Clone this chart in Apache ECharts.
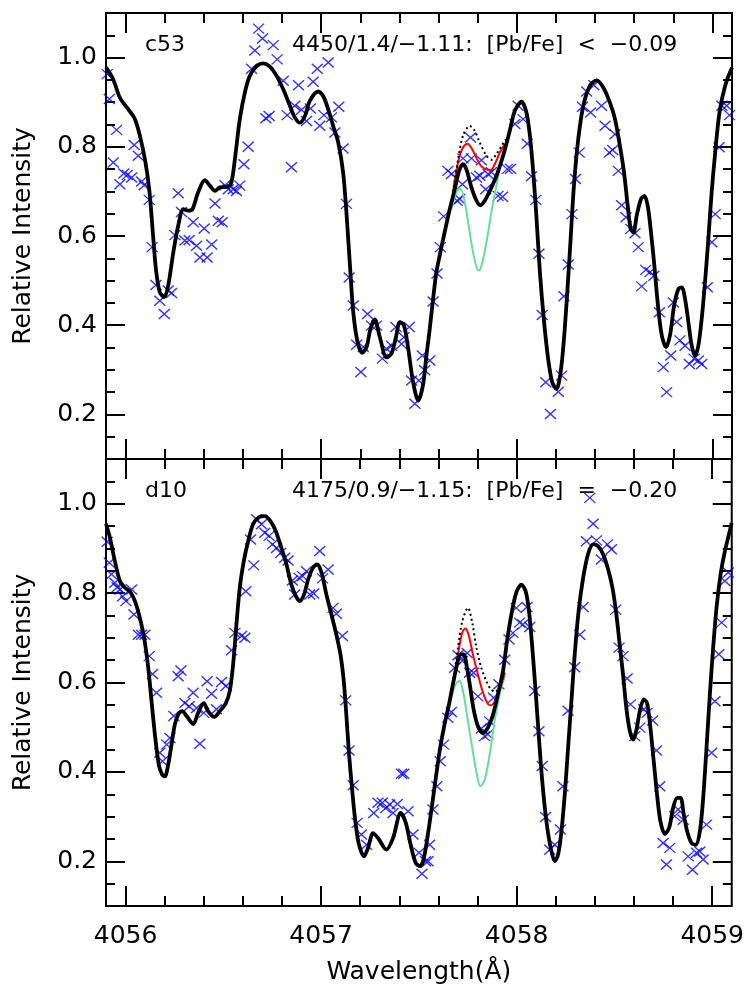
<!DOCTYPE html>
<html>
<head>
<meta charset="utf-8">
<script src="https://cdn.jsdelivr.net/npm/echarts@6/dist/echarts.min.js"></script>
<style>
  html, body { margin: 0; padding: 0; background: #fff; }
  #main { width: 747px; height: 997px; }
</style>
</head>
<body>
<div id="main"></div>
<script>
// ---- data: [wavelength (A), relative intensity] ----

// upper panel (c53)
var topModel = [[4055.9,0.978],[4055.937,0.951],[4055.971,0.91],[4056.014,0.884],[4056.048,0.862],[4056.073,0.825],[4056.099,0.772],[4056.121,0.705],[4056.138,0.616],[4056.155,0.526],[4056.175,0.474],[4056.198,0.463],[4056.218,0.489],[4056.244,0.563],[4056.269,0.623],[4056.295,0.66],[4056.32,0.657],[4056.342,0.66],[4056.371,0.698],[4056.405,0.725],[4056.431,0.713],[4056.457,0.701],[4056.482,0.709],[4056.516,0.71],[4056.537,0.716],[4056.55,0.742],[4056.567,0.802],[4056.584,0.862],[4056.61,0.922],[4056.635,0.959],[4056.67,0.981],[4056.704,0.987],[4056.738,0.98],[4056.772,0.959],[4056.806,0.929],[4056.84,0.892],[4056.865,0.866],[4056.891,0.854],[4056.917,0.869],[4056.942,0.903],[4056.985,0.924],[4057.01,0.914],[4057.036,0.884],[4057.061,0.847],[4057.087,0.81],[4057.112,0.743],[4057.129,0.653],[4057.147,0.534],[4057.164,0.429],[4057.186,0.362],[4057.21,0.338],[4057.232,0.351],[4057.252,0.392],[4057.274,0.413],[4057.3,0.373],[4057.334,0.328],[4057.359,0.336],[4057.382,0.373],[4057.402,0.407],[4057.423,0.4],[4057.445,0.347],[4057.47,0.272],[4057.496,0.231],[4057.52,0.265],[4057.538,0.332],[4057.555,0.392],[4057.572,0.459],[4057.589,0.519],[4057.609,0.563],[4057.631,0.608],[4057.657,0.66],[4057.683,0.705],[4057.705,0.746],[4057.725,0.761],[4057.742,0.75],[4057.768,0.709],[4057.794,0.679],[4057.814,0.669],[4057.836,0.679],[4057.862,0.701],[4057.896,0.735],[4057.93,0.78],[4057.964,0.836],[4057.99,0.881],[4058.024,0.901],[4058.049,0.877],[4058.067,0.825],[4058.084,0.743],[4058.101,0.638],[4058.118,0.519],[4058.138,0.414],[4058.16,0.325],[4058.181,0.272],[4058.203,0.257],[4058.224,0.295],[4058.241,0.369],[4058.258,0.474],[4058.275,0.593],[4058.292,0.713],[4058.314,0.817],[4058.34,0.892],[4058.374,0.937],[4058.408,0.949],[4058.442,0.933],[4058.476,0.899],[4058.502,0.862],[4058.527,0.802],[4058.548,0.743],[4058.565,0.675],[4058.582,0.616],[4058.596,0.608],[4058.613,0.646],[4058.635,0.683],[4058.652,0.69],[4058.669,0.668],[4058.686,0.608],[4058.703,0.534],[4058.72,0.451],[4058.741,0.377],[4058.763,0.351],[4058.783,0.377],[4058.804,0.444],[4058.826,0.481],[4058.843,0.485],[4058.86,0.459],[4058.877,0.407],[4058.894,0.354],[4058.911,0.332],[4058.928,0.354],[4058.945,0.414],[4058.962,0.496],[4058.979,0.593],[4058.996,0.698],[4059.014,0.787],[4059.036,0.877],[4059.065,0.937],[4059.1,0.978]];
var topRed = [[4057.674,0.698],[4057.69,0.743],[4057.708,0.78],[4057.73,0.802],[4057.749,0.807],[4057.771,0.795],[4057.797,0.772],[4057.819,0.756],[4057.845,0.749],[4057.867,0.748],[4057.887,0.761],[4057.913,0.787],[4057.939,0.806]];
var topDotted = [[4057.674,0.698],[4057.7,0.772],[4057.725,0.825],[4057.759,0.847],[4057.785,0.836],[4057.81,0.81],[4057.845,0.78],[4057.87,0.771],[4057.896,0.784],[4057.922,0.802],[4057.944,0.817]];
var topGreen = [[4057.666,0.66],[4057.688,0.694],[4057.708,0.707],[4057.729,0.687],[4057.751,0.631],[4057.773,0.571],[4057.794,0.53],[4057.807,0.522],[4057.824,0.541],[4057.845,0.586],[4057.87,0.653],[4057.896,0.713],[4057.922,0.769],[4057.947,0.806]];
var topObs = [[4055.906,0.963],[4055.917,0.907],[4055.954,0.838],[4055.937,0.765],[4055.971,0.716],[4055.991,0.74],[4056.009,0.737],[4056.031,0.731],[4056.044,0.804],[4056.065,0.78],[4056.082,0.722],[4056.095,0.714],[4056.121,0.681],[4056.136,0.575],[4056.155,0.49],[4056.175,0.455],[4056.198,0.425],[4056.218,0.478],[4056.235,0.472],[4056.252,0.602],[4056.269,0.696],[4056.286,0.654],[4056.303,0.59],[4056.325,0.591],[4056.346,0.631],[4056.363,0.578],[4056.38,0.552],[4056.402,0.617],[4056.417,0.552],[4056.44,0.581],[4056.457,0.673],[4056.474,0.634],[4056.494,0.631],[4056.508,0.714],[4056.525,0.705],[4056.55,0.705],[4056.567,0.701],[4056.584,0.713],[4056.605,0.761],[4056.627,0.8],[4056.644,0.975],[4056.661,1.016],[4056.68,1.065],[4056.7,1.043],[4056.717,0.864],[4056.734,0.869],[4056.755,1.028],[4056.775,0.996],[4056.806,0.948],[4056.826,0.871],[4056.848,0.754],[4056.865,0.892],[4056.884,0.938],[4056.899,0.883],[4056.925,0.858],[4056.945,0.886],[4056.959,0.946],[4056.98,0.975],[4056.993,0.847],[4057.014,0.871],[4057.036,0.989],[4057.053,0.866],[4057.07,0.832],[4057.09,0.89],[4057.112,0.796],[4057.129,0.672],[4057.143,0.507],[4057.164,0.444],[4057.181,0.356],[4057.203,0.295],[4057.215,0.351],[4057.237,0.425],[4057.257,0.399],[4057.283,0.399],[4057.313,0.325],[4057.334,0.347],[4057.359,0.354],[4057.382,0.396],[4057.411,0.358],[4057.423,0.373],[4057.45,0.396],[4057.462,0.276],[4057.479,0.224],[4057.499,0.276],[4057.517,0.332],[4057.529,0.299],[4057.555,0.321],[4057.572,0.453],[4057.592,0.516],[4057.609,0.575],[4057.626,0.644],[4057.648,0.746],[4057.666,0.739],[4057.695,0.679],[4057.708,0.683],[4057.722,0.716],[4057.725,0.774],[4057.763,0.821],[4057.768,0.774],[4057.794,0.731],[4057.811,0.735],[4057.819,0.77],[4057.841,0.705],[4057.853,0.739],[4057.87,0.743],[4057.904,0.69],[4057.927,0.688],[4057.951,0.75],[4057.968,0.751],[4057.99,0.851],[4058.007,0.892],[4058.032,0.862],[4058.053,0.807],[4058.075,0.734],[4058.097,0.681],[4058.113,0.56],[4058.13,0.423],[4058.148,0.272],[4058.172,0.201],[4058.212,0.251],[4058.229,0.287],[4058.241,0.465],[4058.263,0.536],[4058.282,0.649],[4058.3,0.728],[4058.319,0.787],[4058.336,0.89],[4058.357,0.924],[4058.377,0.877],[4058.394,0.938],[4058.433,0.892],[4058.451,0.847],[4058.473,0.787],[4058.49,0.793],[4058.502,0.828],[4058.519,0.746],[4058.536,0.669],[4058.558,0.642],[4058.582,0.616],[4058.604,0.606],[4058.621,0.575],[4058.638,0.487],[4058.659,0.524],[4058.681,0.519],[4058.701,0.511],[4058.729,0.429],[4058.749,0.306],[4058.766,0.25],[4058.787,0.332],[4058.8,0.451],[4058.817,0.407],[4058.834,0.366],[4058.86,0.354],[4058.882,0.313],[4058.906,0.325],[4058.928,0.321],[4058.945,0.313],[4058.974,0.485],[4058.997,0.586],[4059.014,0.649],[4059.034,0.799],[4059.048,0.892],[4059.073,0.892],[4059.087,0.871]];

// lower panel (d10)
var botModel = [[4055.9,0.955],[4055.92,0.924],[4055.945,0.872],[4055.971,0.827],[4055.997,0.812],[4056.022,0.804],[4056.048,0.782],[4056.073,0.745],[4056.095,0.7],[4056.116,0.633],[4056.133,0.558],[4056.15,0.484],[4056.17,0.416],[4056.187,0.394],[4056.201,0.39],[4056.218,0.416],[4056.235,0.461],[4056.252,0.506],[4056.269,0.528],[4056.29,0.536],[4056.312,0.525],[4056.346,0.507],[4056.371,0.532],[4056.4,0.554],[4056.422,0.536],[4056.453,0.523],[4056.482,0.536],[4056.513,0.554],[4056.533,0.581],[4056.55,0.64],[4056.567,0.73],[4056.584,0.812],[4056.605,0.872],[4056.627,0.916],[4056.652,0.954],[4056.683,0.97],[4056.712,0.972],[4056.741,0.961],[4056.768,0.939],[4056.797,0.901],[4056.823,0.864],[4056.848,0.819],[4056.871,0.793],[4056.891,0.782],[4056.913,0.797],[4056.934,0.831],[4056.959,0.857],[4056.98,0.864],[4057.002,0.846],[4057.027,0.797],[4057.053,0.752],[4057.078,0.707],[4057.099,0.663],[4057.116,0.603],[4057.129,0.528],[4057.143,0.439],[4057.158,0.364],[4057.175,0.29],[4057.194,0.237],[4057.22,0.211],[4057.24,0.23],[4057.266,0.263],[4057.291,0.252],[4057.334,0.226],[4057.368,0.252],[4057.407,0.308],[4057.433,0.286],[4057.458,0.237],[4057.484,0.196],[4057.506,0.189],[4057.524,0.204],[4057.546,0.26],[4057.568,0.327],[4057.589,0.394],[4057.609,0.454],[4057.631,0.506],[4057.654,0.551],[4057.674,0.596],[4057.695,0.64],[4057.712,0.663],[4057.729,0.663],[4057.746,0.633],[4057.763,0.588],[4057.78,0.54],[4057.802,0.502],[4057.828,0.487],[4057.853,0.499],[4057.879,0.528],[4057.904,0.573],[4057.93,0.625],[4057.951,0.693],[4057.973,0.752],[4057.998,0.801],[4058.024,0.819],[4058.046,0.804],[4058.063,0.76],[4058.08,0.678],[4058.097,0.581],[4058.114,0.476],[4058.131,0.379],[4058.152,0.29],[4058.174,0.23],[4058.195,0.2],[4058.212,0.215],[4058.229,0.267],[4058.246,0.349],[4058.263,0.454],[4058.28,0.558],[4058.297,0.663],[4058.317,0.76],[4058.34,0.834],[4058.365,0.887],[4058.391,0.909],[4058.416,0.905],[4058.442,0.887],[4058.468,0.853],[4058.49,0.812],[4058.51,0.752],[4058.527,0.685],[4058.544,0.618],[4058.561,0.543],[4058.579,0.491],[4058.596,0.472],[4058.613,0.495],[4058.63,0.536],[4058.65,0.562],[4058.667,0.554],[4058.684,0.499],[4058.701,0.424],[4058.718,0.349],[4058.735,0.29],[4058.758,0.261],[4058.78,0.275],[4058.8,0.319],[4058.821,0.342],[4058.838,0.342],[4058.855,0.304],[4058.872,0.267],[4058.894,0.241],[4058.916,0.237],[4058.937,0.267],[4058.954,0.342],[4058.971,0.454],[4058.988,0.573],[4059.005,0.678],[4059.022,0.767],[4059.043,0.842],[4059.065,0.894],[4059.1,0.957]];
var botRed = [[4057.674,0.596],[4057.695,0.648],[4057.712,0.693],[4057.725,0.715],[4057.739,0.721],[4057.756,0.704],[4057.776,0.663],[4057.802,0.618],[4057.828,0.577],[4057.853,0.552],[4057.87,0.549],[4057.892,0.562],[4057.916,0.588],[4057.939,0.622]];
var botDotted = [[4057.674,0.596],[4057.7,0.678],[4057.722,0.737],[4057.751,0.767],[4057.773,0.734],[4057.794,0.678],[4057.819,0.633],[4057.845,0.603],[4057.87,0.584],[4057.892,0.579],[4057.916,0.596],[4057.939,0.622]];
var botGreen = [[4057.666,0.566],[4057.688,0.596],[4057.708,0.604],[4057.729,0.573],[4057.751,0.513],[4057.773,0.454],[4057.794,0.401],[4057.814,0.368],[4057.836,0.382],[4057.862,0.439],[4057.887,0.513],[4057.913,0.573],[4057.939,0.614]];
var botObs = [[4055.906,0.915],[4055.917,0.868],[4055.928,0.842],[4055.945,0.823],[4055.957,0.813],[4055.971,0.808],[4055.985,0.793],[4056.002,0.782],[4056.031,0.808],[4056.043,0.752],[4056.065,0.707],[4056.082,0.707],[4056.099,0.707],[4056.121,0.659],[4056.138,0.619],[4056.158,0.577],[4056.175,0.443],[4056.189,0.424],[4056.21,0.461],[4056.227,0.476],[4056.247,0.525],[4056.269,0.614],[4056.283,0.627],[4056.303,0.554],[4056.325,0.547],[4056.346,0.577],[4056.363,0.543],[4056.38,0.463],[4056.4,0.532],[4056.417,0.603],[4056.44,0.575],[4056.465,0.54],[4056.491,0.601],[4056.513,0.592],[4056.542,0.672],[4056.559,0.711],[4056.593,0.704],[4056.61,0.7],[4056.615,0.804],[4056.639,0.92],[4056.656,0.862],[4056.67,0.965],[4056.695,0.954],[4056.712,0.935],[4056.734,0.928],[4056.751,0.909],[4056.772,0.901],[4056.794,0.89],[4056.814,0.879],[4056.831,0.873],[4056.853,0.828],[4056.865,0.797],[4056.888,0.834],[4056.905,0.838],[4056.925,0.849],[4056.942,0.797],[4056.962,0.799],[4056.993,0.894],[4057.007,0.833],[4057.036,0.853],[4057.061,0.767],[4057.078,0.754],[4057.109,0.704],[4057.126,0.56],[4057.143,0.448],[4057.164,0.37],[4057.184,0.286],[4057.206,0.26],[4057.232,0.237],[4057.269,0.308],[4057.291,0.331],[4057.313,0.331],[4057.33,0.319],[4057.351,0.327],[4057.368,0.308],[4057.39,0.328],[4057.411,0.396],[4057.423,0.396],[4057.445,0.312],[4057.47,0.26],[4057.501,0.219],[4057.516,0.172],[4057.534,0.2],[4057.547,0.2],[4057.555,0.237],[4057.572,0.316],[4057.592,0.368],[4057.609,0.424],[4057.626,0.461],[4057.648,0.521],[4057.666,0.534],[4057.683,0.633],[4057.7,0.661],[4057.722,0.648],[4057.747,0.666],[4057.759,0.622],[4057.78,0.622],[4057.802,0.569],[4057.819,0.497],[4057.836,0.48],[4057.853,0.484],[4057.862,0.513],[4057.882,0.566],[4057.909,0.596],[4057.939,0.651],[4057.961,0.696],[4057.981,0.711],[4057.998,0.767],[4058.015,0.734],[4058.032,0.73],[4058.053,0.769],[4058.067,0.724],[4058.092,0.581],[4058.114,0.491],[4058.131,0.413],[4058.148,0.299],[4058.169,0.226],[4058.195,0.237],[4058.224,0.271],[4058.237,0.368],[4058.263,0.537],[4058.297,0.634],[4058.323,0.707],[4058.34,0.769],[4058.357,0.916],[4058.374,1.013],[4058.391,0.955],[4058.408,0.918],[4058.433,0.875],[4058.464,0.909],[4058.485,0.898],[4058.507,0.763],[4058.524,0.678],[4058.544,0.659],[4058.565,0.609],[4058.582,0.551],[4058.604,0.48],[4058.63,0.499],[4058.65,0.54],[4058.667,0.532],[4058.695,0.515],[4058.715,0.448],[4058.732,0.368],[4058.749,0.241],[4058.766,0.193],[4058.783,0.23],[4058.809,0.301],[4058.826,0.316],[4058.852,0.293],[4058.877,0.211],[4058.899,0.181],[4058.92,0.219],[4058.937,0.222],[4058.954,0.204],[4058.971,0.282],[4058.997,0.443],[4059.014,0.558],[4059.034,0.663],[4059.048,0.734],[4059.065,0.827],[4059.082,0.846]];

// tick labels
var xMajor = [4056, 4057, 4058, 4059];
var yMajor = [0.2, 0.4, 0.6, 0.8, 1.0];
var xRange = [4055.9, 4059.1];
var yRange = [0.1, 1.1];

var topLabel = ['c53', '4450/1.4/\u22121.11:  [Pb/Fe]  <  \u22120.09'];
var botLabel = ['d10', '4175/0.9/\u22121.15:  [Pb/Fe]  =  \u22120.20'];

// minor ticks every 0.2 A and 0.05 in intensity
var xMinor = [];
xMajor.forEach(function (m) {
    for (var k = 1; k < 5; k++) {
        var v = +(m + 0.2 * k).toFixed(1);
        if (v < xRange[1]) xMinor.push(v);
    }
});
var yMinor = [];
for (var i = 3; i <= 21; i++) {
    var v = +(i * 0.05).toFixed(2);
    if (yMajor.indexOf(v) < 0) yMinor.push(v);
}

var FONT = 'DejaVu Sans';

function xAxes(grid, showLabel) {
    var list = [];
    ['bottom', 'top'].forEach(function (pos) {
        [[xMajor, 20], [xMinor, 10]].forEach(function (t, j) {
            var ax = {
                type: 'value', gridIndex: grid, position: pos,
                min: xRange[0], max: xRange[1],
                axisLine: { show: false, onZero: false },
                splitLine: { show: false },
                axisTick: { show: true, inside: true, length: t[1], customValues: t[0], lineStyle: { color: '#000', width: 2 } },
                axisLabel: { show: false }
            };
            if (showLabel && pos == 'bottom' && j == 0) {
                ax.axisLabel = {
                    show: true, customValues: xMajor, margin: 18,
                    color: '#000', fontSize: 25, fontFamily: FONT,
                    formatter: function (v) { return String(Math.round(v)); }
                };
                ax.name = 'Wavelength(\u00c5)';
                ax.nameLocation = 'middle';
                ax.nameGap = 54;
                ax.nameTextStyle = { color: '#000', fontSize: 25, fontFamily: FONT };
            }
            list.push(ax);
        });
    });
    return list;
}

function yAxes(grid) {
    var list = [];
    ['left', 'right'].forEach(function (pos) {
        [[yMajor, 19], [yMinor, 9]].forEach(function (t, j) {
            var ax = {
                type: 'value', gridIndex: grid, position: pos,
                min: yRange[0], max: yRange[1],
                axisLine: { show: false, onZero: false },
                splitLine: { show: false },
                axisTick: { show: true, inside: true, length: t[1], customValues: t[0], lineStyle: { color: '#000', width: 2 } },
                axisLabel: { show: false }
            };
            if (pos == 'left' && j == 0) {
                ax.axisLabel = {
                    show: true, customValues: yMajor, margin: 9,
                    color: '#000', fontSize: 25, fontFamily: FONT,
                    formatter: function (v) { return v.toFixed(1); }
                };
                ax.name = 'Relative Intensity';
                ax.nameLocation = 'middle';
                ax.nameGap = 70;
                ax.nameTextStyle = { color: '#000', fontSize: 25, fontFamily: FONT };
            }
            list.push(ax);
        });
    });
    return list;
}

// every grid has 4 x axes and 4 y axes, the first one of each carries the data
function panelSeries(grid, obs, model, red, dotted, green) {
    var idx = grid * 4;
    var base = { xAxisIndex: idx, yAxisIndex: idx, animation: false, silent: true };
    return [
        Object.assign({
            type: 'scatter', data: obs,
            symbol: 'path://M0,0L10,10M10,0L0,10', symbolSize: [11, 10],
            itemStyle: { color: 'rgba(0,0,0,0)', borderColor: '#0000ff', borderWidth: 1.4 },
            z: 2
        }, base),
        Object.assign({
            type: 'line', data: green, showSymbol: false, smooth: 0.3,
            lineStyle: { color: '#66dd99', width: 2 }, z: 3
        }, base),
        Object.assign({
            type: 'line', data: red, showSymbol: false, smooth: 0.3,
            lineStyle: { color: '#ff0000', width: 2 }, z: 4
        }, base),
        Object.assign({
            type: 'line', data: dotted, showSymbol: false, smooth: 0.3,
            lineStyle: { color: '#000', width: 2, type: [2, 3] }, z: 5
        }, base),
        Object.assign({
            type: 'line', data: model, showSymbol: false, smooth: 0.3,
            lineStyle: { color: '#000', width: 3.8 }, z: 6
        }, base)
    ];
}

function label(text, x, y) {
    return {
        type: 'text', x: x, y: y, z: 10,
        style: { text: text, fill: '#000', font: '22px "DejaVu Sans"', textVerticalAlign: 'middle' }
    };
}

var myChart = echarts.init(document.getElementById('main'));

var option = {
    backgroundColor: '#fff',
    animation: false,
    grid: [
        { left: 106, right: 15, top: 13, height: 446, show: true, borderColor: '#000', borderWidth: 2, backgroundColor: 'transparent' },
        { left: 106, right: 15, top: 459, height: 447, show: true, borderColor: '#000', borderWidth: 2, backgroundColor: 'transparent' }
    ],
    xAxis: xAxes(0, false).concat(xAxes(1, true)),
    yAxis: yAxes(0).concat(yAxes(1)),
    series: panelSeries(0, topObs, topModel, topRed, topDotted, topGreen)
        .concat(panelSeries(1, botObs, botModel, botRed, botDotted, botGreen)),
    graphic: [
        label(topLabel[0], 145, 45),
        label(topLabel[1], 292, 45),
        label(botLabel[0], 145, 491),
        label(botLabel[1], 292, 491)
    ]
};

option && myChart.setOption(option);
</script>
</body>
</html>
